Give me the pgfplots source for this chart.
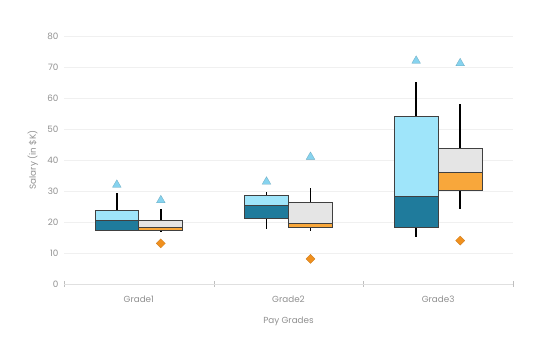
\documentclass[border=0pt]{standalone}
\usepackage{pgfplots}
\pgfplotsset{compat=1.18}
\usepackage{fontspec}
\setmainfont{Poppins}
\definecolor{lblue}{HTML}{9FE5FA}
\definecolor{dteal}{HTML}{1F7B9C}
\definecolor{lgray}{HTML}{E5E5E5}
\definecolor{orng}{HTML}{F8A73B}
\definecolor{tri}{HTML}{86D3EF}
\definecolor{dia}{HTML}{F0901E}
\definecolor{txt}{HTML}{909090}
\begin{document}
\begin{tikzpicture}
\begin{axis}[
  scale only axis, width=449pt, height=248pt,
  xmin=0, xmax=3, ymin=0, ymax=80,
  axis x line*=bottom, axis y line*=left,
  x axis line style={draw=black!12},
  y axis line style={draw=none},
  xtick={0.5,1.5,2.5}, xticklabels={Grade1,Grade2,Grade3},
  minor xtick={0,1,2,3},
  major tick length=0pt, minor tick length=6pt,
  every minor tick/.style={black!25, yshift=-3pt},
  ytick={0,10,...,80},
  ytick style={draw=none},
  ymajorgrids, grid style={black!6},
  tick label style={font=\fontsize{8.8}{9}\selectfont, text=txt},
  /pgf/number format/assume math mode=true,
  yticklabel style={xshift=-2pt},
  xticklabel style={yshift=-8pt},
  ylabel={Salary (in \$K)}, xlabel={Pay Grades},
  label style={font=\fontsize{8.8}{9}\selectfont, text=txt},
  ylabel style={at={(axis description cs:-0.069,0.5)}, anchor=center},
  xlabel style={at={(axis description cs:0.5,-0.149)}, anchor=center},
  clip=false,
]
% ---- Grade1 ----
\addplot[black, line width=1.8pt] coordinates {(0.353,23.6) (0.353,29.3)};
\addplot[black, line width=1.8pt] coordinates {(0.353,17.4) (0.353,17.0)};
\addplot[black, line width=1.8pt] coordinates {(0.647,20.6) (0.647,24.1)};
\addplot[black, line width=1.8pt] coordinates {(0.647,17.2) (0.647,16.9)};
\addplot[fill=lblue, draw=black!75, line width=0.8pt] coordinates {(0.207,20.4) (0.5,20.4) (0.5,23.6) (0.207,23.6)} -- cycle;
\addplot[fill=dteal, draw=black!75, line width=0.8pt] coordinates {(0.207,17.4) (0.5,17.4) (0.5,20.4) (0.207,20.4)} -- cycle;
\addplot[fill=lgray, draw=black!75, line width=0.8pt] coordinates {(0.5,18.3) (0.793,18.3) (0.793,20.6) (0.5,20.6)} -- cycle;
\addplot[fill=orng, draw=black!75, line width=0.8pt] coordinates {(0.5,17.2) (0.793,17.2) (0.793,18.3) (0.5,18.3)} -- cycle;
% ---- Grade2 ----
\addplot[black, line width=1.8pt] coordinates {(1.353,28.5) (1.353,29.6)};
\addplot[black, line width=1.8pt] coordinates {(1.353,21.2) (1.353,17.6)};
\addplot[black, line width=1.8pt] coordinates {(1.647,26.2) (1.647,31.1)};
\addplot[black, line width=1.8pt] coordinates {(1.647,18.3) (1.647,17.2)};
\addplot[fill=lblue, draw=black!75, line width=0.8pt] coordinates {(1.207,25.3) (1.5,25.3) (1.5,28.5) (1.207,28.5)} -- cycle;
\addplot[fill=dteal, draw=black!75, line width=0.8pt] coordinates {(1.207,21.2) (1.5,21.2) (1.5,25.3) (1.207,25.3)} -- cycle;
\addplot[fill=lgray, draw=black!75, line width=0.8pt] coordinates {(1.5,19.6) (1.793,19.6) (1.793,26.2) (1.5,26.2)} -- cycle;
\addplot[fill=orng, draw=black!75, line width=0.8pt] coordinates {(1.5,18.3) (1.793,18.3) (1.793,19.6) (1.5,19.6)} -- cycle;
% ---- Grade3 ----
\addplot[black, line width=1.8pt] coordinates {(2.353,54) (2.353,65)};
\addplot[black, line width=1.8pt] coordinates {(2.353,18.2) (2.353,15.3)};
\addplot[black, line width=1.8pt] coordinates {(2.647,43.8) (2.647,58)};
\addplot[black, line width=1.8pt] coordinates {(2.647,30.1) (2.647,24.2)};
\addplot[fill=lblue, draw=black!75, line width=0.8pt] coordinates {(2.207,28.2) (2.5,28.2) (2.5,54) (2.207,54)} -- cycle;
\addplot[fill=dteal, draw=black!75, line width=0.8pt] coordinates {(2.207,18.2) (2.5,18.2) (2.5,28.2) (2.207,28.2)} -- cycle;
\addplot[fill=lgray, draw=black!75, line width=0.8pt] coordinates {(2.5,36) (2.793,36) (2.793,43.8) (2.5,43.8)} -- cycle;
\addplot[fill=orng, draw=black!75, line width=0.8pt] coordinates {(2.5,30.1) (2.793,30.1) (2.793,36) (2.5,36)} -- cycle;
% ---- markers ----
\addplot[only marks, mark=triangle*, mark size=5pt, mark options={fill=tri, draw=tri!80!black, line width=0.3pt}]
  coordinates {(0.353,32) (0.647,27) (1.353,33) (1.647,41) (2.353,72) (2.647,71.2)};
\addplot[only marks, mark=square*, mark size=3.2pt, mark options={rotate=45, fill=dia, draw=dia!85!black, line width=0.3pt}]
  coordinates {(0.647,13.1) (1.647,8.1) (2.647,14)};
\end{axis}
\path (-64pt,-66pt) rectangle (486pt,284pt);
\end{tikzpicture}
\end{document}
